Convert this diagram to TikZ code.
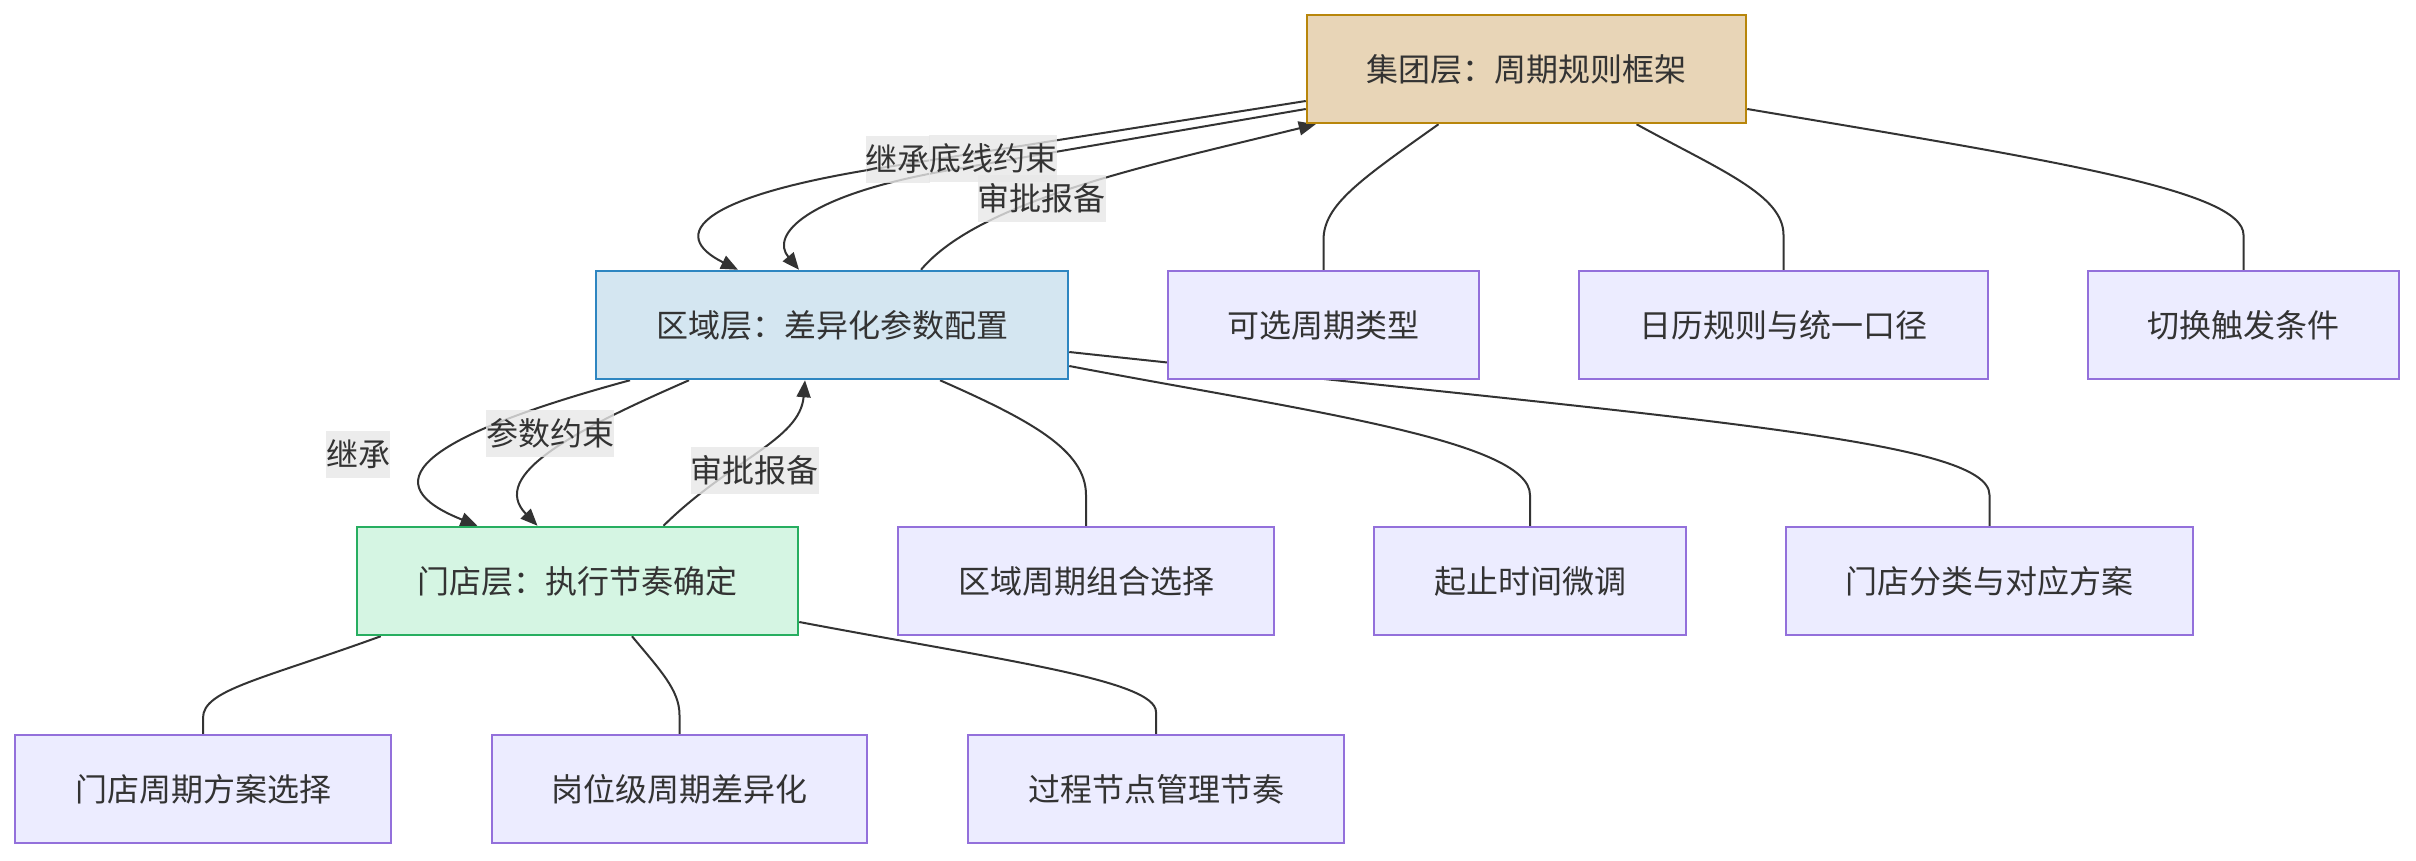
\documentclass[tikz,border=0pt]{standalone}
\usepackage{fontspec}
\newfontfamily\cjk{Noto Sans CJK SC}
\usetikzlibrary{arrows.meta,calc,backgrounds}
\definecolor{txt}{HTML}{333333}
\definecolor{gfill}{HTML}{E8D5B7}
\definecolor{gdraw}{HTML}{B8860B}
\definecolor{rfill}{HTML}{D4E6F1}
\definecolor{rdraw}{HTML}{2E86C1}
\definecolor{sfill}{HTML}{D5F5E3}
\definecolor{sdraw}{HTML}{27AE60}
\definecolor{dfill}{HTML}{ECECFF}
\definecolor{ddraw}{HTML}{9370DB}
\definecolor{lbg}{HTML}{E8E8E8}
\begin{document}
\begin{tikzpicture}[x=1pt,y=-1pt,
  box/.style={draw=ddraw,fill=dfill,line width=2pt,minimum height=108pt,inner sep=0pt,text=txt,font=\cjk\fontsize{32}{38}\selectfont},
  gbox/.style={box,draw=gdraw,fill=gfill,line width=2.5pt},
  rbox/.style={box,draw=rdraw,fill=rfill,line width=2.5pt},
  sbox/.style={box,draw=sdraw,fill=sfill,line width=2.5pt},
  lbl/.style={fill=lbg,fill opacity=0.8,text opacity=1,inner xsep=0pt,inner ysep=0pt,minimum height=47pt,text=txt,font=\cjk\fontsize{32}{38}\selectfont},
  arr/.style={draw=txt,line width=2pt,-{Triangle[length=17pt,width=14pt]}},
  link/.style={draw=txt,line width=2pt}]
\useasboundingbox (0,0) rectangle (2416,860);
\node[gbox,minimum width=439pt] (G) at (1526.5,69) {集团层：周期规则框架};
\node[rbox,minimum width=472pt] (R) at (832,325) {区域层：差异化参数配置};
\node[box,minimum width=311pt] (A1) at (1323.5,325) {可选周期类型};
\node[box,minimum width=409pt] (A2) at (1783.5,325) {日历规则与统一口径};
\node[box,minimum width=311pt] (A3) at (2243.5,325) {切换触发条件};
\node[sbox,minimum width=441pt] (S) at (577.5,581) {门店层：执行节奏确定};
\node[box,minimum width=376pt] (B1) at (1086,581) {区域周期组合选择};
\node[box,minimum width=312pt] (B2) at (1530,581) {起止时间微调};
\node[box,minimum width=407pt] (B3) at (1989.5,581) {门店分类与对应方案};
\node[box,minimum width=376pt] (C1) at (203,789) {门店周期方案选择};
\node[box,minimum width=375pt] (C2) at (679.5,789) {岗位级周期差异化};
\node[box,minimum width=376pt] (C3) at (1156,789) {过程节点管理节奏};
\begin{scope}[on background layer]
\fill[white] (0,0) rectangle (2416,860);
\draw[arr] ($(G.west)+(0,32)$) -- (900,165) .. controls (695,195) and (668,235) .. ($(R.north)+(-94,0)$);
\draw[arr] ($(G.west)+(0,40)$) -- (950,170) .. controls (805,195) and (770,235) .. ($(R.north)+(-33,0)$);
\draw[arr] ($(R.north)+(89,0)$) .. controls (980,200) and (1150,165) .. ($(G.south west)+(10,0)$);
\draw[arr] ($(R.south)+(-202,0)$) .. controls (410,440) and (375,485) .. ($(S.north)+(-100,0)$);
\draw[arr] ($(R.south)+(-143,0)$) .. controls (575,430) and (488,475) .. ($(S.north)+(-40,0)$);
\draw[arr] ($(S.north)+(86,0)$) .. controls (730,460) and (800,440) .. ($(R.south)+(-27,0)$);
\draw[link] ($(G.south)+(-88,0)$) .. controls (1360,180) and (1323.5,205) .. (1323.5,240) -- (A1.north);
\draw[link] ($(G.south)+(110,0)$) .. controls (1720,170) and (1783.5,195) .. (1783.5,235) -- (A2.north);
\draw[link] ($(G.east)+(0,40)$) .. controls (2050,160) and (2243.5,190) .. (2243.5,235) -- (A3.north);
\draw[link] ($(R.south)+(108,0)$) .. controls (1030,420) and (1086,450) .. (1086,495) -- (B1.north);
\draw[link] ($(R.east)+(0,41)$) .. controls (1300,410) and (1530,440) .. (1530,495) -- (B2.north);
\draw[link] ($(R.east)+(0,27)$) .. controls (1700,420) and (1989.5,440) .. (1989.5,495) -- (B3.north);
\draw[link] ($(S.south west)+(25,0)$) .. controls (260,680) and (203,690) .. (203,718) -- (C1.north);
\draw[link] ($(S.south)+(54.5,0)$) .. controls (660,670) and (679.5,690) .. (679.5,715) -- (C2.north);
\draw[link] ($(S.east)+(0,41)$) .. controls (1000,660) and (1156,680) .. (1156,712) -- (C3.north);
\end{scope}
\node[lbl] (L1) at (897.5,159.5) {继承};
\node[lbl] (L2) at (993,158.5) {底线约束};
\node[lbl] (L3) at (1041.5,198) {审批报备};
\node[lbl] (L4) at (358,454) {继承};
\node[lbl] (L5) at (550,433) {参数约束};
\node[lbl] (L6) at (754.5,470) {审批报备};
\end{tikzpicture}
\end{document}
